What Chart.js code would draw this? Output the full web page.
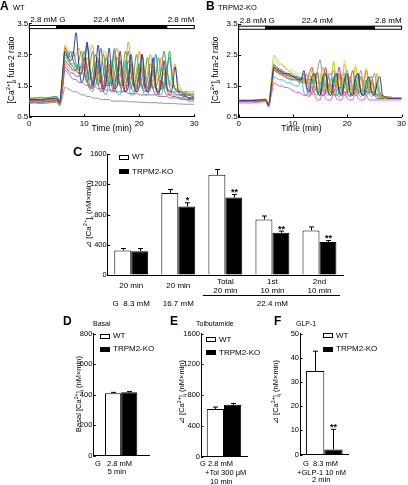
<!DOCTYPE html>
<html>
<head>
<meta charset="utf-8">
<script src="https://cdn.jsdelivr.net/npm/chart.js@4.4.0/dist/chart.umd.min.js"></script>
<style>
  body { margin: 0; background: #fff; }
  #fig { position: relative; width: 408px; height: 485px; overflow: hidden; font-family: "Liberation Sans", Arial, sans-serif; color: #000; background: #fff; }
  #fig canvas { position: absolute; }
  .t { position: absolute; white-space: nowrap; line-height: 1; z-index: 2; }
  .ylab { position: absolute; white-space: nowrap; line-height: 1; z-index: 2; transform: translate(-50%, -50%) rotate(-90deg); }
  .box { position: absolute; box-sizing: border-box; border: 1px solid #000; z-index: 2; }
  sup, sub { font-size: 70%; line-height: 0; }
</style>
</head>
<body>
<div id="fig"></div>
<script>
// --- time axis for the fura-2 traces (min) ---
const timeMin = [0,1,2,3,4,5,5.5,6,6.5,7,7.5,8,8.5,9,9.5,10,10.5,11,11.5,12,12.5,13,13.5,14,14.5,15,15.5,16,16.5,17,17.5,18,18.5,19,19.5,20,20.5,21,21.5,22,22.5,23,23.5,24,24.5,25,25.5,26,26.5,27,27.5,28,28.5,29,29.5,30];

// stimulation bar
const stimStart = [0, 5, 25];
const stimEnd = [5, 25, 30];
const stimFill = ['#fff', '#000', '#fff'];
const stimText = ['2.8 mM G', '22.4 mM', '2.8 mM'];
const stimTextAt = [0, 14.5, 30];

// panel A: WT traces (ratio)
const wtTraces = [
  [1.05,1.06,1.04,1.07,1.08,1.10, 0.95, 1.8,2.6,2.4,2.3,2.5,3.2,2.2,1.6,1.9, 2.9,2.0,1.5,1.8,2.8,1.9,1.4,1.6,2.7,1.8, 1.4,1.5,2.6,1.7,1.3,1.5,2.5,1.6,1.3,1.5, 2.5,1.6,1.3,1.4,2.4,1.5,1.3,1.5,2.3,1.5, 1.3,1.4,2.1,1.4,1.2,1.2,1.15,1.1,1.1,1.1],
  [0.98,1.0,0.99,1.01,1.02,1.05, 0.9, 1.5,2.8,2.5,2.4,2.3,2.5,2.7,2.4,2.1, 2.0,2.6,2.8,2.1,1.7,2.0,2.6,2.5,2.0,1.6, 2.4,2.7,2.0,1.6,2.2,2.9,2.2,1.6,2.0,2.6, 2.1,1.6,1.9,2.5,1.9,1.5,1.8,2.4,2.0,1.6, 1.5,1.9,2.2,1.6,1.4,1.3,1.3,1.25,1.2,1.2],
  [1.1,1.1,1.12,1.1,1.13,1.15, 1.0, 1.6,2.7,2.5,2.2,2.1,2.0,2.3,2.6,2.0, 1.6,2.1,2.6,1.9,1.5,1.9,2.5,1.8,1.5,2.0, 2.6,1.8,1.5,2.0,2.6,1.8,1.4,1.9,2.5,1.8, 1.4,1.8,2.4,1.7,1.4,1.8,2.4,1.7,1.4,1.9, 2.6,1.8,1.4,1.3,1.3,1.2,1.2,1.2,1.15,1.15],
  [1.0,1.02,1.0,0.99,1.0,1.03, 0.92, 1.4,2.3,2.2,2.1,2.0,2.0,1.9,1.9,2.4, 2.0,1.5,1.4,2.2,2.3,1.6,1.3,2.1,2.2,1.5, 1.3,2.0,2.3,1.5,1.3,1.9,2.2,1.5,1.3,1.9, 2.1,1.4,1.3,1.8,2.0,1.4,1.2,1.7,1.9,1.4, 1.2,1.3,1.25,1.2,1.2,1.15,1.15,1.1,1.1,1.1],
  [0.95,0.96,0.95,0.97,0.98,1.0, 0.88, 1.3,2.0,1.9,1.8,1.7,1.7,1.6,1.6,1.55, 1.5,1.5,1.45,1.45,1.4,1.4,1.4,1.35,1.35,1.35, 1.3,1.3,1.3,1.3,1.3,1.25,1.25,1.25,1.25,1.2, 1.2,1.2,1.2,1.2,1.2,1.2,1.15,1.15,1.15,1.15, 1.1,1.1,1.1,1.1,1.05,1.05,1.05,1.0,1.0,1.0],
  [0.93,0.94,0.92,0.93,0.95,0.96, 0.85, 1.1,1.45,1.4,1.35,1.3,1.3,1.25,1.2,1.2, 1.15,1.15,1.1,1.1,1.1,1.05,1.05,1.05,1.05,1.0, 1.0,1.0,1.0,1.0,1.0,0.98,0.98,0.98,0.97,0.97, 0.96,0.96,0.95,0.95,0.95,0.95,0.94,0.94,0.93,0.93, 0.92,0.92,0.92,0.91,0.91,0.9,0.9,0.9,0.9,0.9],
  [1.02,1.03,1.02,1.04,1.05,1.08, 0.93, 1.5,2.4,2.3,2.2,2.2,2.1,2.1,2.0,1.8, 1.6,1.4,1.3,1.9,2.4,1.6,1.3,1.2,1.8,2.3, 1.6,1.25,1.2,1.7,2.3,1.6,1.2,1.2,1.8,2.2, 1.5,1.2,1.2,1.7,2.1,1.5,1.2,1.2,1.6,2.0, 1.5,1.2,1.2,1.15,1.1,1.1,1.1,1.1,1.05,1.05],
  [1.08,1.1,1.09,1.1,1.12,1.15, 1.0, 1.6,2.5,2.3,2.2,2.1,2.05,2.0,2.0,2.1, 2.4,2.0,1.7,1.9,2.3,2.0,1.6,1.8,2.3,2.1, 1.6,1.7,2.3,2.0,1.6,1.7,2.3,2.0,1.6,1.7, 2.2,2.0,1.6,1.6,2.2,1.9,1.5,1.6,2.1,1.8, 1.5,1.45,1.4,1.4,1.35,1.3,1.3,1.3,1.3,1.3],
  [1.0,1.0,1.01,1.02,1.03,1.05, 0.9, 1.7,2.7,2.6,2.4,2.6,2.2,2.0,2.2,2.6, 2.1,1.7,2.0,2.5,2.0,1.6,1.9,2.4,1.9,1.5, 1.9,2.4,2.0,1.5,1.8,2.3,1.9,1.5,1.8,2.2, 1.9,1.5,1.7,2.2,1.9,1.5,1.7,2.0,2.6,2.0, 1.6,1.5,1.4,1.35,1.3,1.25,1.25,1.2,1.2,1.2],
  [1.04,1.05,1.04,1.05,1.06,1.09, 0.94, 1.5,2.2,2.1,2.0,2.0,1.95,1.9,1.9,1.85, 1.8,1.8,1.75,2.1,1.7,1.6,1.6,1.7,2.0,1.6, 1.55,1.5,1.9,1.6,1.5,1.5,1.8,1.5,1.45,1.45, 1.7,1.5,1.4,1.4,1.7,1.4,1.4,1.4,1.6,1.4, 1.35,1.3,1.3,1.3,1.3,1.3,1.3,1.25,1.25,1.25],
  [0.97,0.98,0.97,0.99,1.0,1.02, 0.9, 1.4,2.1,2.0,1.9,1.9,1.8,1.8,1.9,2.2, 1.7,1.4,1.6,2.1,1.6,1.3,1.5,2.0,1.5,1.3, 1.5,2.0,1.5,1.3,1.5,1.9,1.5,1.3,1.4,1.9, 1.5,1.3,1.4,1.8,1.4,1.2,1.3,1.7,1.4,1.2, 1.2,1.15,1.15,1.1,1.1,1.1,1.05,1.05,1.05,1.05],
  [1.03,1.04,1.03,1.05,1.06,1.08, 0.93, 1.6,2.5,2.4,2.6,2.3,2.1,2.0,2.1,2.3, 2.8,2.1,1.6,1.5,2.0,2.7,2.0,1.5,1.5,2.1, 2.7,2.0,1.5,1.5,2.1,2.6,1.9,1.5,1.5,2.0, 2.5,1.9,1.4,1.5,2.0,2.5,1.8,1.4,1.5,2.0, 2.4,1.7,1.4,1.3,1.3,1.25,1.2,1.2,1.2,1.2]
];
const wtColors = ['#1c2a8a','#ff8c1a','#2ca02c','#d62728','#9467bd','#8585b5','#17becf','#bcbd22','#2a8a6a','#e377c2','#8c564b','#1f77b4'];

// panel B: TRPM2-KO traces (ratio)
const koTraces = [
  [1.02,1.03,1.02,1.04,1.05,1.06, 0.88, 1.5,2.1,2.05,2.0,1.95,1.9,1.9,1.85,1.8, 1.75,1.7,1.7,2.0,1.5,1.3,1.8,1.9,1.3,1.2, 1.8,1.9,1.3,1.2,1.7,1.9,1.3,1.2,1.7,1.9, 1.3,1.2,1.7,1.9,1.3,1.2,1.6,1.8,1.3,1.2, 1.6,1.8,1.2,1.15,1.1,1.1,1.1,1.1,1.1,1.1],
  [1.0,1.01,1.0,1.02,1.03,1.05, 0.87, 1.4,2.0,1.95,1.9,1.85,1.8,1.8,1.75,1.75, 1.7,1.7,1.65,1.6,1.9,1.4,1.2,1.6,1.9,1.3, 1.2,1.5,1.9,1.3,1.2,1.5,1.8,1.3,1.2,1.5, 1.8,1.3,1.2,1.5,1.8,1.3,1.2,1.5,1.7,1.2, 1.2,1.15,1.15,1.1,1.1,1.1,1.1,1.1,1.1,1.1],
  [1.05,1.05,1.06,1.05,1.07,1.08, 0.9, 1.7,2.5,2.35,2.25,2.2,2.1,2.0,1.95,1.9, 1.85,1.8,1.75,1.7,1.7,1.65,2.0,1.5,1.3,1.7, 2.1,1.5,1.3,1.7,2.3,1.6,1.3,1.5,2.2,1.6, 1.3,1.5,2.1,1.5,1.3,1.5,2.0,1.5,1.3,1.4, 1.9,1.3,1.15,1.1,1.1,1.1,1.1,1.1,1.1,1.1],
  [1.0,1.0,1.01,1.0,1.02,1.03, 0.86, 1.4,2.0,1.95,1.9,1.85,1.8,1.75,1.7,1.7, 1.7,1.65,1.65,1.6,1.6,1.6,1.55,1.9,1.4,1.2, 1.5,1.9,1.3,1.2,1.5,1.9,1.4,1.2,1.5,1.8, 1.3,1.2,1.4,1.8,1.3,1.2,1.4,1.7,1.3,1.2, 1.1,1.1,1.1,1.1,1.1,1.1,1.1,1.1,1.1,1.1],
  [0.95,0.96,0.95,0.97,0.98,1.0, 0.82, 1.2,1.6,1.55,1.5,1.5,1.45,1.45,1.4,1.35, 1.3,1.3,1.25,1.2,1.2,1.15,1.5,1.2,1.05,1.05, 1.4,1.1,1.05,1.05,1.3,1.1,1.05,1.05,1.3,1.1, 1.05,1.05,1.3,1.1,1.05,1.05,1.2,1.05,1.05,1.05, 1.05,1.05,1.05,1.05,1.05,1.05,1.05,1.05,1.05,1.05],
  [1.03,1.04,1.03,1.04,1.05,1.07, 0.88, 1.5,2.2,2.1,2.0,1.95,1.9,1.85,1.8,1.8, 1.75,1.7,1.7,1.65,1.7,1.4,1.3,1.6,2.0,2.35, 1.6,1.3,1.3,1.7,2.0,1.5,1.3,1.3,1.7,2.0, 1.5,1.3,1.3,1.6,2.0,1.5,1.3,1.3,1.6,1.9, 1.4,1.2,1.15,1.15,1.1,1.1,1.1,1.1,1.1,1.1],
  [1.01,1.02,1.01,1.03,1.04,1.05, 0.87, 1.5,2.15,2.1,2.05,2.0,1.95,1.9,1.9,1.85, 1.8,1.8,1.75,1.75,1.7,1.7,1.7,1.65,1.95,1.4, 1.2,1.3,1.8,1.9,1.3,1.2,1.3,1.8,1.9,1.3, 1.2,1.3,1.8,1.9,1.3,1.2,1.3,1.7,1.8,1.3, 1.2,1.15,1.1,1.1,1.1,1.1,1.1,1.1,1.1,1.1],
  [1.0,1.0,1.0,1.01,1.02,1.03, 0.85, 1.3,1.8,1.75,1.7,1.7,1.65,1.6,1.6,1.55, 1.5,1.5,1.8,1.3,1.2,1.5,1.8,1.3,1.2,1.5, 1.8,1.3,1.2,1.4,1.8,1.3,1.15,1.4,1.8,1.3, 1.15,1.4,1.7,1.3,1.15,1.4,1.7,1.3,1.15,1.35, 1.6,1.2,1.1,1.1,1.1,1.1,1.1,1.1,1.1,1.1],
  [1.02,1.02,1.03,1.03,1.04,1.05, 0.88, 1.45,2.05,2.0,1.95,1.9,1.85,1.85,1.8,1.8, 1.75,1.75,1.7,1.7,1.65,1.9,2.1,1.5,1.3,1.3, 1.6,2.1,1.5,1.3,1.3,1.6,2.1,1.5,1.3,1.3, 1.6,2.0,1.5,1.3,1.3,1.6,2.0,1.5,1.3,1.3, 1.5,1.3,1.15,1.1,1.1,1.1,1.1,1.1,1.1,1.1],
  [1.04,1.05,1.04,1.06,1.06,1.08, 0.9, 1.6,2.3,2.25,2.2,2.15,2.1,2.05,2.0,2.0, 1.95,1.9,1.9,1.85,1.85,1.8,1.8,1.75,1.75,1.8, 2.1,1.6,1.4,1.7,2.2,1.6,1.4,1.4,2.35,1.7, 1.4,1.4,2.2,1.7,1.4,1.4,2.1,1.6,1.4,1.35, 1.9,1.3,1.2,1.15,1.1,1.1,1.1,1.1,1.1,1.1],
  [1.0,1.01,1.0,1.02,1.02,1.04, 0.86, 1.4,2.0,1.95,1.9,1.85,1.8,1.75,1.75,1.7, 1.7,1.65,1.6,1.9,1.4,1.2,1.3,1.8,1.9,1.3, 1.2,1.3,1.8,1.4,1.2,1.3,1.9,1.4,1.2,1.3, 1.8,1.4,1.2,1.3,1.8,1.4,1.2,1.3,1.7,1.3, 1.15,1.1,1.1,1.1,1.1,1.1,1.1,1.1,1.1,1.1],
  [1.03,1.03,1.04,1.04,1.05,1.06, 0.89, 1.5,2.1,2.0,1.95,1.9,1.9,1.85,1.85,1.8, 1.8,1.75,1.75,1.7,1.7,1.7,1.65,1.65,1.6,1.6, 1.6,1.55,1.55,1.5,1.5,1.5,1.45,1.45,1.45,1.4, 1.4,1.4,1.4,1.35,1.35,1.35,1.3,1.3,1.3,1.3, 1.25,1.2,1.2,1.15,1.15,1.15,1.1,1.1,1.1,1.1]
];
const koColors = ['#1c2a8a','#ff8c1a','#c8c820','#2ca02c','#ff33cc','#8a8a8a','#1f77b4','#17becf','#d62728','#f0dc40','#9467bd','#6b7a2a'];

// panel C: AUC (nM x min)
const cGroups = [['20 min'], ['20 min'], ['Total', '20 min'], ['1st', '10 min'], ['2nd', '10 min']];
const cWT = [325, 1085, 1325, 735, 590];
const cWTErr = [25, 45, 70, 45, 45];
const cKO = [315, 905, 1025, 560, 435];
const cKOErr = [35, 50, 40, 20, 20];
const cKOStars = ['', '*', '**', '**', '**'];
const cDose = ['G  8.3 mM', '16.7 mM', '22.4 mM'];
const cDoseFrom = [0, 1, 2];
const cDoseTo = [0, 1, 4];

// panel D: basal
const dWT = [408], dWTErr = [6];
const dKO = [414], dKOErr = [6];
// panel E: tolbutamide
const eWT = [618], eWTErr = [25];
const eKO = [672], eKOErr = [18];
// panel F: GLP-1
const fWT = [34.5], fWTErr = [8.2];
const fKO = [2.1], fKOErr = [8.3];
const fKOStars = ['**'];

const FONT = '"Liberation Sans", Arial, sans-serif';
Chart.defaults.font.family = FONT;
Chart.defaults.color = '#000';

const fig = document.getElementById('fig');

// canvas placed so the chart area lands on exact page pixels
function place(box, area, config) {
    const cv = document.createElement('canvas');
    cv.width = box.w;
    cv.height = box.h;
    cv.style.left = box.x + 'px';
    cv.style.top = box.y + 'px';
    fig.appendChild(cv);
    const o = config.options;
    o.responsive = false;
    o.animation = false;
    o.devicePixelRatio = 1;
    o.layout = { padding: { top: area.t - box.y, right: box.x + box.w - area.r, left: 0, bottom: 0 } };
    o.scales.x.afterFit = s => { s.height = box.y + box.h - area.b; };
    o.scales.y.afterFit = s => { s.width = area.l - box.x; };
    o.plugins = Object.assign({ legend: { display: false }, tooltip: { enabled: false } }, o.plugins || {});
    return new Chart(cv, config);
}

function yAxis(min, max, step, size) {
    return {
        min: min, max: max,
        ticks: { stepSize: step, padding: 1, font: { size: size }, callback: v => String(v) },
        grid: { drawOnChartArea: false, drawTicks: false },
        border: { color: '#000', width: 1 }
    };
}

// small tick marks pointing into the plot
const inTicks = {
    id: 'inTicks',
    afterDraw(chart) {
        const { ctx, chartArea: a } = chart;
        ctx.save();
        ctx.strokeStyle = '#000';
        ctx.lineWidth = 1;
        const ys = chart.scales.y;
        ys.ticks.forEach(t => {
            const p = Math.round(ys.getPixelForValue(t.value)) + 0.5;
            ctx.beginPath(); ctx.moveTo(a.left, p); ctx.lineTo(a.left + 2.5, p); ctx.stroke();
        });
        const xs = chart.scales.x;
        if (xs.type === 'linear') {
            xs.ticks.forEach(t => {
                const p = Math.round(xs.getPixelForValue(t.value)) + 0.5;
                ctx.beginPath(); ctx.moveTo(p, a.bottom); ctx.lineTo(p, a.bottom - 2.5); ctx.stroke();
            });
        }
        ctx.restore();
    }
};

// glucose bar on top of the traces
const stimBar = {
    id: 'stimBar',
    afterDatasetsDraw(chart) {
        const ctx = chart.ctx, x = chart.scales.x, y = chart.scales.y;
        const top = y.getPixelForValue(3.43), bot = y.getPixelForValue(3.33);
        ctx.save();
        stimStart.forEach((s, i) => {
            const x0 = x.getPixelForValue(s), x1 = x.getPixelForValue(stimEnd[i]);
            ctx.fillStyle = stimFill[i];
            ctx.fillRect(x0, top, x1 - x0, bot - top);
            ctx.strokeStyle = '#000';
            ctx.lineWidth = 1;
            ctx.strokeRect(x0, top, x1 - x0, bot - top);
        });
        ctx.fillStyle = '#000';
        ctx.font = '8px ' + FONT;
        ctx.textBaseline = 'alphabetic';
        const aligns = ['left', 'center', 'right'];
        stimText.forEach((t, i) => {
            ctx.textAlign = aligns[i];
            ctx.fillText(t, x.getPixelForValue(stimTextAt[i]) + (i === 0 ? 1 : 0), top - 3);
        });
        ctx.restore();
    }
};

// error bars (upper only) and significance stars
const errBars = {
    id: 'errBars',
    afterDatasetsDraw(chart) {
        const ctx = chart.ctx, y = chart.scales.y;
        chart.data.datasets.forEach((ds, di) => {
            if (!ds.errors) return;
            const meta = chart.getDatasetMeta(di);
            meta.data.forEach((bar, i) => {
                const top = y.getPixelForValue(ds.data[i] + ds.errors[i]);
                const bx = Math.round(bar.x) + 0.5;
                ctx.save();
                ctx.strokeStyle = '#000';
                ctx.lineWidth = 1;
                ctx.beginPath();
                ctx.moveTo(bx, bar.y); ctx.lineTo(bx, top);
                ctx.moveTo(bx - 2.5, top); ctx.lineTo(bx + 2.5, top);
                ctx.stroke();
                if (ds.stars && ds.stars[i]) {
                    ctx.fillStyle = '#000';
                    ctx.font = 'bold 9px ' + FONT;
                    ctx.textAlign = 'center';
                    ctx.fillText(ds.stars[i], bx, top + 0.5);
                }
                ctx.restore();
            });
        });
    }
};

function traceChart(box, area, traces, colors) {
    return place(box, area, {
        type: 'line',
        data: {
            datasets: traces.map((tr, i) => ({
                data: tr.map((v, j) => ({ x: timeMin[j], y: v })),
                borderColor: colors[i],
                borderWidth: 0.9,
                pointRadius: 0,
                tension: 0.3,
                cubicInterpolationMode: 'monotone',
                fill: false
            }))
        },
        options: {
            scales: {
                x: {
                    type: 'linear', min: 0, max: 30,
                    ticks: { stepSize: 10, padding: 2, font: { size: 8 } },
                    grid: { drawOnChartArea: false, drawTicks: false },
                    border: { color: '#000', width: 1 }
                },
                y: yAxis(0.5, 3.5, 1, 8)
            }
        },
        plugins: [inTicks, stimBar]
    });
}

function barChart(box, area, labels, wt, wtErr, ko, koErr, koStars, yMin, yMax, yStep, catPct, extra) {
    return place(box, area, {
        type: 'bar',
        data: {
            labels: labels,
            datasets: [
                { label: 'WT', data: wt, errors: wtErr, backgroundColor: '#fff', borderColor: '#000', borderWidth: 1 },
                { label: 'TRPM2-KO', data: ko, errors: koErr, stars: koStars, backgroundColor: '#000', borderColor: '#000', borderWidth: 1 }
            ]
        },
        options: {
            datasets: { bar: { categoryPercentage: catPct, barPercentage: 1 } },
            scales: {
                x: {
                    type: 'category',
                    ticks: { display: false },
                    grid: { drawOnChartArea: false, drawTicks: false },
                    border: { color: '#000', width: 1 }
                },
                y: yAxis(yMin, yMax, yStep, 7.5)
            }
        },
        plugins: [inTicks, errBars].concat(extra || [])
    });
}

// category labels and glucose row under panel C
const cLabels = {
    id: 'cLabels',
    afterDraw(chart) {
        const ctx = chart.ctx, x = chart.scales.x, b = chart.chartArea.bottom;
        const half = (chart.chartArea.right - chart.chartArea.left) / cGroups.length / 2;
        ctx.save();
        ctx.fillStyle = '#000';
        ctx.strokeStyle = '#000';
        ctx.lineWidth = 1;
        ctx.font = '8px ' + FONT;
        ctx.textAlign = 'center';
        ctx.textBaseline = 'middle';
        cGroups.forEach((lines, i) => {
            const px = x.getPixelForValue(i);
            if (lines.length === 1) {
                ctx.fillText(lines[0], px, b + 10.7);
            } else {
                ctx.fillText(lines[0], px, b + 6.5);
                ctx.fillText(lines[1], px, b + 15.3);
            }
        });
        cDose.forEach((t, i) => {
            const p0 = x.getPixelForValue(cDoseFrom[i]), p1 = x.getPixelForValue(cDoseTo[i]);
            if (cDoseTo[i] > cDoseFrom[i]) {
                const ly = Math.round(b + 19.5) + 0.5;
                ctx.beginPath(); ctx.moveTo(p0 - half + 1, ly); ctx.lineTo(p1 + half - 3, ly); ctx.stroke();
            }
            ctx.fillText(t, (p0 + p1) / 2, b + 28.5);
        });
        ctx.restore();
    }
};

traceChart({ x: 0, y: 8, w: 204, h: 127 }, { l: 29.3, t: 23.3, r: 194.3, b: 116.7 }, wtTraces, wtColors);
traceChart({ x: 204, y: 8, w: 204, h: 127 }, { l: 238.7, t: 24, r: 404, b: 117 }, koTraces, koColors);
barChart({ x: 80, y: 145, w: 275, h: 170 }, { l: 107.7, t: 154, r: 343, b: 275 },
    cGroups.map(g => g.join(' ')), cWT, cWTErr, cKO, cKOErr, cKOStars, 0, 1600, 400, 0.72, [cLabels]);
barChart({ x: 62, y: 325, w: 98, h: 150 }, { l: 93.3, t: 333.5, r: 149, b: 455.5 },
    [''], dWT, dWTErr, dKO, dKOErr, null, 0, 800, 200, 0.58);
barChart({ x: 162, y: 325, w: 100, h: 150 }, { l: 201, t: 333.5, r: 247, b: 456.5 },
    [''], eWT, eWTErr, eKO, eKOErr, null, 0, 1600, 400, 0.75);
barChart({ x: 270, y: 325, w: 138, h: 150 }, { l: 300, t: 333.5, r: 348.6, b: 454.5 },
    [''], fWT, fWTErr, fKO, fKOErr, fKOStars, 0, 50, 10, 0.755);

// --- HTML text: panel letters, titles, legends, axis titles ---
function txt(html, left, base, size, extra) {
    const d = document.createElement('div');
    d.className = 't';
    d.innerHTML = html;
    d.style.left = left + 'px';
    d.style.top = (base - 0.86 * size) + 'px';
    d.style.fontSize = size + 'px';
    if (extra) Object.assign(d.style, extra);
    fig.appendChild(d);
}
function ylab(html, cx, cy, size) {
    const d = document.createElement('div');
    d.className = 'ylab';
    d.innerHTML = html;
    d.style.left = cx + 'px';
    d.style.top = cy + 'px';
    d.style.fontSize = size + 'px';
    fig.appendChild(d);
}
function legendBox(left, top, w, h, fill) {
    const d = document.createElement('div');
    d.className = 'box';
    Object.assign(d.style, { left: left + 'px', top: top + 'px', width: w + 'px', height: h + 'px', background: fill });
    fig.appendChild(d);
}
function legend(boxLeft, top1, top2, size) {
    legendBox(boxLeft, top1, 10, 5, '#fff');
    legendBox(boxLeft, top2, 10, 5, '#000');
    txt('WT', boxLeft + 13, top1 + 5.5, size);
    txt('TRPM2-KO', boxLeft + 13, top2 + 5.5, size);
}
const bold = { fontWeight: 'bold' };
const center = { transform: 'translateX(-50%)' };
const caLabel = '[Ca<sup>2+</sup>]<sub>i</sub>';

// A
txt('A', 0, 10.5, 12, bold);
txt('WT', 13, 10, 7.5);
ylab(caLabel + ' fura-2 ratio', 10.5, 70, 8.5);
txt('Time (min)', 111.7, 131.5, 8.5, center);
// B
txt('B', 206, 10.5, 12, bold);
txt('TRPM2-KO', 218, 10, 7.5);
ylab(caLabel + ' fura-2 ratio', 214.5, 70, 8.5);
txt('Time (min)', 301.5, 131.5, 8.5, center);
// C
txt('C', 73, 156.5, 13, bold);
legend(119, 154.5, 169, 8);
ylab('&#8895; ' + caLabel + ' (nM×min)', 88.5, 214, 8);
// D
txt('D', 63, 325.5, 12, bold);
txt('Basal', 93, 326.5, 7);
legend(100, 333.5, 346.5, 8);
ylab('Basal ' + caLabel + ' (nM×min)', 78.5, 394, 7.5);
txt('G', 95, 466.5, 7.5);
txt('2.8 mM', 107, 466.5, 7.5);
txt('5 min', 117, 474.5, 7.5, center);
// E
txt('E', 170, 325.5, 12, bold);
txt('Tolbutamide', 196, 326.5, 7);
legend(206, 337, 350, 8);
ylab('&#8895; ' + caLabel + ' (nM×min)', 182, 392, 7.5);
txt('G 2.8 mM', 200, 466.5, 7.5);
txt('+Tol 300 µM', 205, 475.5, 7.5);
txt('10 min', 210, 484, 7.5);
// F
txt('F', 274, 325.5, 12, bold);
txt('GLP-1', 296, 326.5, 7);
legend(323, 333, 346.5, 8);
ylab('&#8895; ' + caLabel + ' (nM×min)', 276, 392, 7.5);
txt('G &nbsp;8.3 mM', 303, 466.5, 7.5);
txt('+GLP-1 10 nM', 297, 475, 7.5);
txt('2 min', 312, 482.5, 7.5);
</script>
</body>
</html>
